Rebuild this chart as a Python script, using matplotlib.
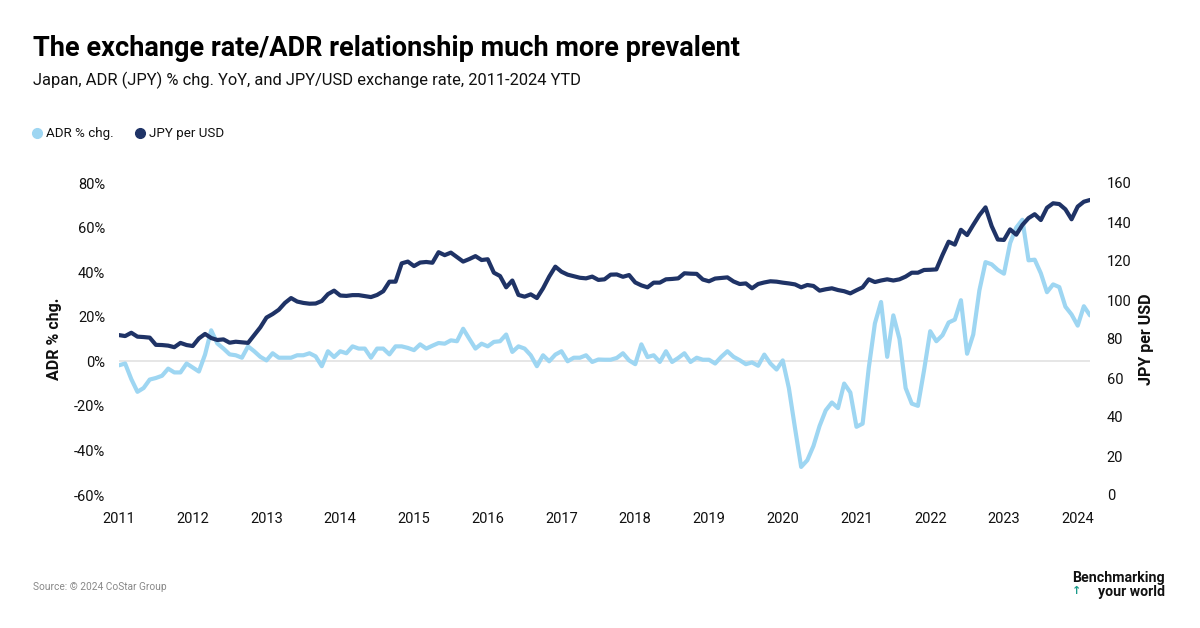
import numpy as np
import matplotlib
matplotlib.use("Agg")
import matplotlib.pyplot as plt
from matplotlib.lines import Line2D

plt.rcParams['font.family'] = ['Roboto', 'DejaVu Sans']

# ---- data (monthly, Jan 2011 .. Mar 2024) ----
start_year = 2011
adr_pct_chg = [
    -1.8, -1.0, -8.0, -13.7, -12.0, -8.2, -7.5, -6.5, -3.3, -5.0, -5.0, -1.0,
    -2.8, -4.6, 3.0, 13.9, 8.0, 5.7, 3.1, 2.7, 1.6, 6.7, 4.5, 2.0,
    0.4, 3.6, 1.6, 1.6, 1.6, 2.7, 2.7, 3.6, 2.2, -2.2, 4.5, 1.9,
    4.5, 3.6, 6.7, 5.7, 5.7, 1.6, 5.7, 5.7, 3.1, 6.7, 6.7, 6.0,
    5.0, 7.6, 5.7, 7.0, 8.2, 7.9, 9.4, 9.0, 14.6, 10.1, 5.7, 7.9,
    6.7, 8.7, 9.0, 12.0, 4.2, 6.7, 5.7, 2.7, -2.2, 2.7, 0.0, 3.0,
    4.5, 0.0, 1.6, 1.6, 2.7, -0.3, 0.8, 0.7, 0.7, 1.5, 3.6, 0.4,
    -1.3, 7.6, 1.9, 2.7, -0.3, 4.5, -0.3, 1.5, 3.6, -0.3, 1.6, 0.7,
    0.7, -1.0, 2.0, 4.5, 2.0, 0.5, -1.3, -0.5, -2.0, 3.0, -1.0, -3.7,
    0.4, -12.0, -30.0, -47.4, -44.4, -38.0, -29.0, -22.0, -18.5, -21.0, -10.0, -14.0,
    -29.4, -28.0, -3.0, 17.0, 26.6, 2.0, 20.6, 10.0, -12.0, -19.0, -20.0, -4.0,
    13.5, 9.0, 11.7, 17.4, 18.7, 27.4, 3.4, 12.0, 31.8, 44.5, 43.5, 41.0,
    39.3, 53.0, 60.0, 63.5, 45.3, 45.6, 39.5, 31.0, 34.5, 33.3, 24.5, 21.0,
    16.0, 24.7, 20.6,
]
jpy_per_usd = [
    82.0, 81.5, 83.2, 81.2, 81.0, 80.7, 77.0, 76.9, 76.6, 75.8, 78.0, 76.9,
    76.4, 80.3, 82.6, 80.5, 79.5, 79.8, 78.1, 78.6, 78.3, 78.0, 82.0, 86.0,
    91.0, 92.8, 95.0, 98.5, 101.0, 99.2, 98.5, 98.1, 98.2, 99.5, 103.0, 104.8,
    102.3, 102.1, 102.5, 102.5, 102.0, 101.5, 102.6, 104.5, 109.4, 109.4, 118.8, 119.7,
    117.4, 119.2, 119.5, 119.1, 124.5, 123.0, 124.3, 122.0, 119.7, 121.0, 122.5, 120.5,
    120.9, 114.0, 112.3, 106.5, 110.0, 102.6, 101.7, 102.9, 101.0, 106.0, 112.0, 117.1,
    114.5, 113.0, 112.2, 111.4, 111.1, 112.0, 110.3, 110.6, 113.0, 113.1, 111.9, 112.8,
    109.0, 107.5, 106.5, 108.9, 108.9, 110.6, 110.8, 111.1, 113.7, 113.5, 113.4, 110.5,
    109.6, 111.0, 111.3, 111.6, 109.5, 108.2, 108.5, 106.0, 108.2, 109.0, 109.6, 109.4,
    108.9, 108.5, 108.0, 106.5, 107.7, 107.2, 104.8, 105.5, 106.0, 105.1, 104.5, 103.4,
    105.0, 106.5, 110.6, 109.2, 110.0, 110.6, 110.0, 110.6, 112.0, 114.0, 114.0, 115.4,
    115.5, 115.7, 123.1, 129.9, 128.4, 136.0, 133.3, 138.5, 143.5, 147.5, 137.9, 131.0,
    130.8, 136.2, 133.5, 138.5, 142.0, 144.0, 141.0, 147.3, 149.6, 149.2, 146.5, 141.4,
    147.9, 150.4, 151.3,
]
year_ticks = list(range(2011, 2025))
left_ticks = [-60, -40, -20, 0, 20, 40, 60, 80]
right_ticks = [0, 20, 40, 60, 80, 100, 120, 140, 160]
legend_labels = ["ADR % chg.", "JPY per USD"]

title = "The exchange rate/ADR relationship much more prevalent"
subtitle = "Japan, ADR (JPY) % chg. YoY, and JPY/USD exchange rate, 2011-2024 YTD"
source = "Source: \u00a9 2024 CoStar Group"

LIGHT = "#9ED6F2"
DARK = "#1F3366"
TXT = "#111111"

n = len(jpy_per_usd)
x = start_year + np.arange(n) / 12.0

fig = plt.figure(figsize=(12, 6.28), dpi=100)
W, H = 1200, 628
ax = fig.add_axes([119 / W, 1 - 495 / H, (1090 - 119) / W, (495 - 183) / H])
ax2 = ax.twinx()

ax.axhline(0, color="#E2E2E2", lw=1.2, zorder=0)
ax.plot(x, adr_pct_chg, color=LIGHT, lw=3.0, solid_joinstyle='round', solid_capstyle='round', zorder=2)
ax2.plot(x, jpy_per_usd, color=DARK, lw=3.0, solid_joinstyle='round', solid_capstyle='round', zorder=3)

ax.set_xlim(start_year, start_year + (n - 1) / 12.0)
ax.set_ylim(-60, 80)
ax2.set_ylim(0, 160)
ax.set_xticks(year_ticks)
ax.set_xticklabels([str(y) for y in year_ticks])
ax.set_yticks(left_ticks)
ax.set_yticklabels([f"{t}%" for t in left_ticks])
ax2.set_yticks(right_ticks)
ax2.set_yticklabels([str(t) for t in right_ticks])

for a in (ax, ax2):
    for s in a.spines.values():
        s.set_visible(False)
    a.tick_params(length=0, labelsize=10.5, labelcolor=TXT)
ax.tick_params(axis='x', pad=12)
ax.tick_params(axis='y', pad=10)
ax2.tick_params(axis='y', pad=12)

fig.text(55 / W, 1 - 339 / H, "ADR % chg.", rotation=90, ha='center', va='center',
         fontsize=11.5, fontweight='bold', color=TXT)
fig.text(1147 / W, 1 - 339 / H, "JPY per USD", rotation=90, ha='center', va='center',
         fontsize=11.5, fontweight='bold', color=TXT)

fig.text(33 / W, 1 - 48 / H, title, ha='left', va='center', fontsize=19.5,
         fontweight='bold', color="#000000")
fig.text(33 / W, 1 - 80 / H, subtitle, ha='left', va='center', fontsize=11.9, color=TXT)

# legend (manual)
for (mx, tx), col, lab in zip([(37, 46), (140, 149)], [LIGHT, DARK], legend_labels):
    fig.add_artist(Line2D([mx / W], [1 - 133 / H], marker='o', ls='', color=col,
                          markersize=7, transform=fig.transFigure))
    fig.text(tx / W, 1 - 133 / H, lab, ha='left', va='center', fontsize=9.6, color=TXT)

fig.text(33 / W, 1 - 587 / H, source, ha='left', va='center', fontsize=7.3, color="#888888")

fig.text(1165 / W, 1 - 578 / H, "Benchmarking", ha='right', va='center', fontsize=10.2,
         fontweight='bold', color="#111111")
fig.text(1165 / W, 1 - 592 / H, "your world", ha='right', va='center', fontsize=10.2,
         fontweight='bold', color="#111111")
fig.text(1077 / W, 1 - 591 / H, "\u2191", ha='center', va='center', fontsize=8,
         fontweight='bold', color="#1A9A8A", family=['DejaVu Sans'])

fig.savefig("out.png", dpi=100, facecolor="white")
